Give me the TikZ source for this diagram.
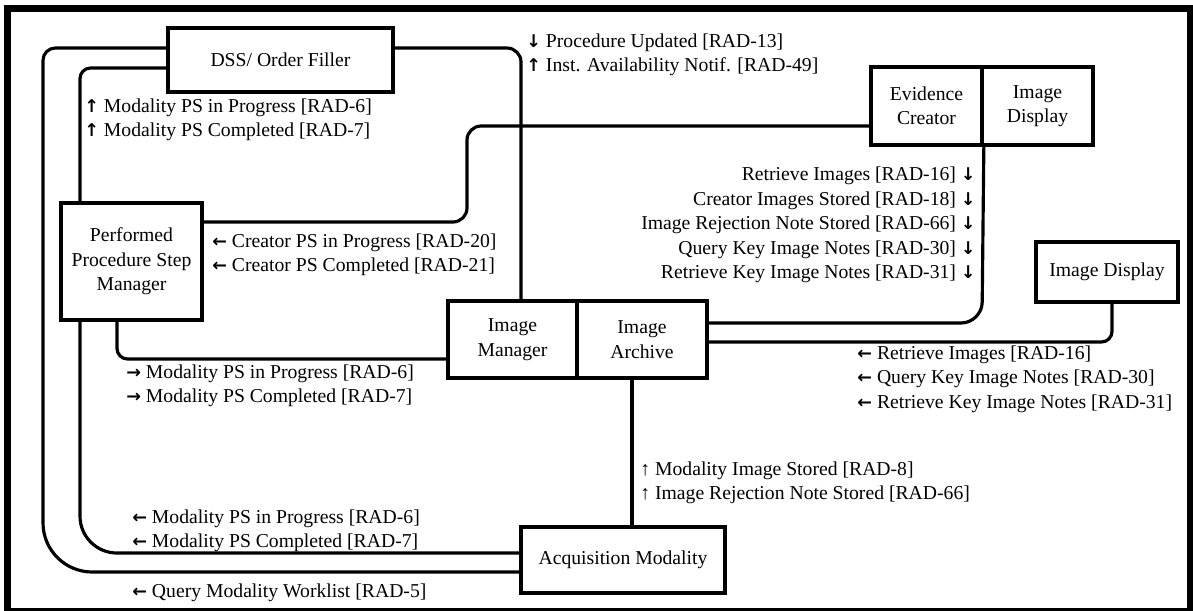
\documentclass[tikz,border=0pt]{standalone}
\usepackage{fontspec}
\setmainfont{Liberation Serif}
\newfontfamily\arrowfont{DejaVu Sans}
\usepackage{tikz}
\usetikzlibrary{positioning}
\tikzset{font={\fontsize{11.2pt}{13.9pt}\selectfont}}
\newcommand{\uarr}{{\arrowfont\bfseries\fontsize{10pt}{13.9pt}\selectfont ↑}}
\newcommand{\darr}{{\arrowfont\bfseries\fontsize{10pt}{13.9pt}\selectfont ↓}}
\newcommand{\larr}{{\arrowfont\bfseries\fontsize{10pt}{13.9pt}\selectfont ←}}
\newcommand{\rarr}{{\arrowfont\bfseries\fontsize{10pt}{13.9pt}\selectfont →}}

\begin{document}
\begin{tikzpicture}[x=0.02cm,y=-0.02cm,
actor/.style={draw,line width=2.1pt,align=center,inner sep=0pt},
link/.style={line width=1.8pt},
msg/.style={align=left,inner sep=0pt,anchor=west}
]
\useasboundingbox (0,0) rectangle (1193,610);
\draw[line width=4pt] (7.5,8.5) rectangle (1190.5,611);

%actors
\node[actor,minimum width=4.5cm,minimum height=1.28cm] (dss) at (280.5,60) {DSS/ Order Filler};
\node[actor,minimum width=2.82cm,minimum height=2.34cm] (ppsm) at (131.5,261.5) {Performed\\Procedure Step\\Manager};
\node[actor,minimum width=2.22cm,minimum height=1.56cm] (ec) at (926.5,106) {Evidence\\Creator};
\node[actor,minimum width=2.22cm,minimum height=1.56cm] (idt) at (1037.5,106) {Image\\Display};
\node[actor,minimum width=2.84cm,minimum height=1.2cm] (idr) at (1107,272) {Image Display};
\node[actor,minimum width=2.58cm,minimum height=1.54cm] (im) at (512.5,339.5) {Image\\Manager};
\node[actor,minimum width=2.6cm,minimum height=1.54cm] (ia) at (642,339.5) {Image\\Archive};
\node[actor,minimum width=4.08cm,minimum height=1.32cm] (am) at (623,560) {Acquisition Modality};

%links
\draw[link] (dss.west |- 0,48) [rounded corners=7pt] -- (43,48) [rounded corners=28pt] -- (43,572) -- (am.west |- 0,572);
\draw[link,rounded corners=6pt] (dss.west |- 0,68) -- (80,68) -- (ppsm.north -| 80,0);
\draw[link,rounded corners=21pt] (ppsm.south -| 80,0) -- (80,553) -- (am.west |- 0,553);
\draw[link,rounded corners=6pt] (ppsm.south -| 117,0) -- (117,359) -- (im.west |- 0,359);
\draw[link,rounded corners=8pt] (dss.east |- 0,48) -- (521,48) -- (im.north -| 521,0);
\draw[link,rounded corners=8pt] (ppsm.east |- 0,222) -- (467,222) -- (467,126) -- (ec.west |- 0,126);
\draw[link,rounded corners=12pt] (ec.south east) -- (982,323) -- (ia.east |- 0,323);
\draw[link,rounded corners=6pt] (idr.south -| 1112,0) -- (1112,342) -- (ia.east |- 0,342);
\draw[link] (ia.south -| 632,0) -- (am.north -| 632,0);

%messages
\node[msg] (m1) at (526,55) {\darr\ Procedure Updated [RAD-13]\\\uarr\ Inst. Availability Notif. [RAD-49]};
\node[msg] (m2) at (84,119.5) {\uarr\ Modality PS in Progress [RAD-6]\\\uarr\ Modality PS Completed [RAD-7]};
\node[msg] (m3) at (212,255) {\larr\ Creator PS in Progress [RAD-20]\\\larr\ Creator PS Completed [RAD-21]};
\node[msg,align=right,anchor=east] (m4) at (976,225) {Retrieve Images [RAD-16] \darr\\Creator Images Stored [RAD-18] \darr\\Image Rejection Note Stored [RAD-66] \darr\\Query Key Image Notes [RAD-30] \darr\\Retrieve Key Image Notes [RAD-31] \darr};
\node[msg] (m5) at (126,385.5) {\rarr\ Modality PS in Progress [RAD-6]\\\rarr\ Modality PS Completed [RAD-7]};
\node[msg] (m6) at (857,379) {\larr\ Retrieve Images [RAD-16]\\\larr\ Query Key Image Notes [RAD-30]\\\larr\ Retrieve Key Image Notes [RAD-31]};
\node[msg] (m7) at (640,483) {↑ Modality Image Stored [RAD-8]\\↑ Image Rejection Note Stored [RAD-66]};
\node[msg] (m8) at (132,530.5) {\larr\ Modality PS in Progress [RAD-6]\\\larr\ Modality PS Completed [RAD-7]};
\node[msg] (m9) at (132,593) {\larr\ Query Modality Worklist [RAD-5]};

\end{tikzpicture}
\end{document}
